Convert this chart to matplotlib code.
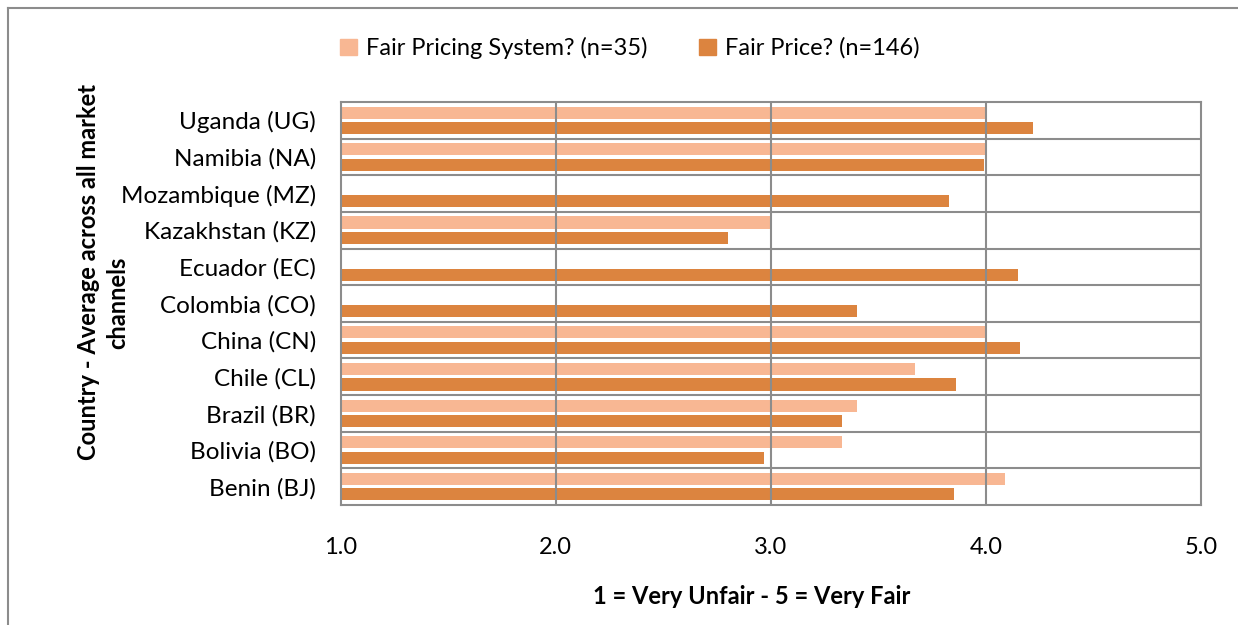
import numpy as np
import matplotlib
matplotlib.use('Agg')
from matplotlib import pyplot as pl
from matplotlib.lines import Line2D

pl.rcParams['font.family'] = ['Lato', 'DejaVu Sans']

###############################################################################
countries = ['Benin (BJ)', 'Bolivia (BO)', 'Brazil (BR)', 'Chile (CL)', 'China (CN)',
             'Colombia (CO)', 'Ecuador (EC)', 'Kazakhstan (KZ)', 'Mozambique (MZ)',
             'Namibia (NA)', 'Uganda (UG)']
fair_system = [4.09, 3.33, 3.40, 3.67, 4.00, np.nan, np.nan, 3.00, np.nan, 4.00, 4.00]
fair_price  = [3.85, 2.97, 3.33, 3.86, 4.16, 3.40, 4.15, 2.80, 3.83, 3.99, 4.22]
xticks      = [1.0, 2.0, 3.0, 4.0, 5.0]

lab_system = 'Fair Pricing System? (n=35)'
lab_price  = 'Fair Price? (n=146)'
col_system = '#F8B793'
col_price  = '#DC843F'
grid_col   = '#8C8C8C'
fsz        = 17

###############################################################################
fig = pl.figure(figsize=(12.38, 6.25), dpi=100)
ax = fig.add_axes([340.8/1238, 1-505/625, (1201-340.8)/1238, (505-102)/625])

y = np.arange(len(countries))
fs = np.array(fair_system)
fp = np.array(fair_price)
ok = ~np.isnan(fs)
# bars start at 1.0 (axis origin)
ax.barh(y[ok]+0.21, fs[ok]-1, left=1, height=0.33, color=col_system, zorder=2)
ax.barh(y-0.21, fp-1, left=1, height=0.33, color=col_price, zorder=2)

ax.set_xlim(1, 5)
ax.set_ylim(-0.5, len(countries)-0.5)

# gridlines on top like the original
for xv in xticks[1:-1]:
    ax.axvline(xv, color=grid_col, lw=1.5, zorder=3)
for yv in np.arange(0.5, len(countries)-0.5, 1):
    ax.axhline(yv, color=grid_col, lw=1.5, zorder=3)
for s in ax.spines.values():
    s.set_color(grid_col)
    s.set_linewidth(1.5)

ax.set_xticks(xticks)
ax.set_xticklabels(['%.1f' % v for v in xticks], fontsize=fsz)
ax.set_yticks(y)
ax.set_yticklabels(countries, fontsize=fsz + 0.5)
ax.tick_params(axis='x', length=0, pad=23)
ax.tick_params(axis='y', length=0, pad=18)

fig.text(752/1238, 1-597/625, '1 = Very Unfair - 5 = Very Fair', fontsize=fsz,
         fontweight='bold', ha='center', va='center')
fig.text(88/1238, 1-272/625, 'Country - Average across all market', fontsize=fsz,
         fontweight='bold', ha='center', va='center', rotation=90)
fig.text(118/1238, 1-303/625, 'channels', fontsize=fsz,
         fontweight='bold', ha='center', va='center', rotation=90)

handles = [pl.Rectangle((0, 0), 1, 1, color=col_system),
           pl.Rectangle((0, 0), 1, 1, color=col_price)]
fig.legend(handles, [lab_system, lab_price], loc='center', ncol=2,
           bbox_to_anchor=(630/1238, 1-48/625), frameon=False, fontsize=fsz,
           handlelength=0.7, handleheight=0.7, handletextpad=0.4, columnspacing=2.2)

# outer chart frame (only top/left visible in the crop)
fig.add_artist(Line2D([8/1238, 8/1238], [0, 1-8/625], color='#8C8C8C', lw=1.5))
fig.add_artist(Line2D([8/1238, 1], [1-8/625, 1-8/625], color='#8C8C8C', lw=1.5))

fig.savefig('out.png', dpi=100)
